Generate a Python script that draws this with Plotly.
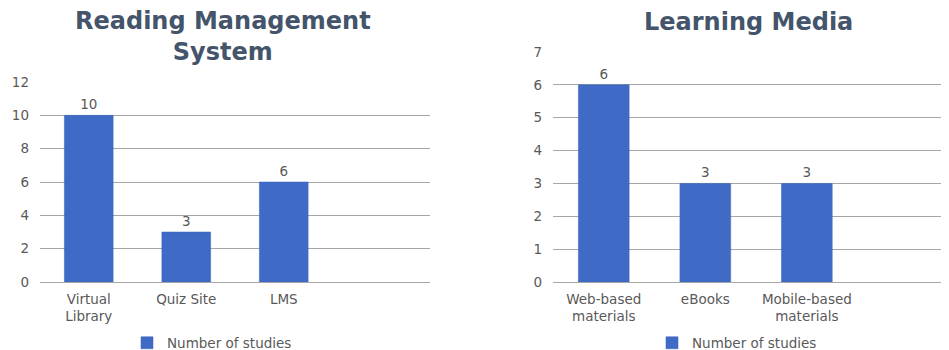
import plotly.graph_objects as go

rms_categories = ["Virtual<br>Library", "Quiz Site", "LMS"]
rms_values = [10, 3, 6]
media_categories = ["Web-based<br>materials", "eBooks", "Mobile-based<br>materials"]
media_values = [6, 3, 3]
series_name = "Number of studies"
rms_title = "Reading Management<br>System"
media_title = "Learning Media"

OFF = 8  # page body margin
W, H = 949 - OFF, 350 - OFF
BAR = "#3f6bc6"
GRID = "#a6a6a6"
TXT = "#595959"
TITLE = "#44546a"
FONT = "DejaVu Sans"
FS = 13.5

def px(x):
    return (x - OFF) / W

def py(y):
    return 1 - (y - OFF) / H

fig = go.Figure()
fig.add_trace(go.Bar(x=rms_categories, y=rms_values, name=series_name,
                     marker=dict(color=BAR, line=dict(color="#3a62b5", width=0.5)),
                     text=rms_values, textposition="outside", cliponaxis=False,
                     textfont=dict(color=TXT, size=FS, family=FONT), showlegend=True,
                     xaxis="x", yaxis="y", legend="legend"))
fig.add_trace(go.Bar(x=media_categories, y=media_values, name=series_name,
                     marker=dict(color=BAR, line=dict(color="#3a62b5", width=0.5)),
                     text=media_values, textposition="outside", cliponaxis=False,
                     textfont=dict(color=TXT, size=FS, family=FONT), showlegend=True,
                     xaxis="x2", yaxis="y2", legend="legend2"))

axis_common = dict(showline=False, ticks="", automargin=False,
                   tickfont=dict(color=TXT, size=FS, family=FONT))
legend_common = dict(xanchor="center", yanchor="middle", orientation="h",
                     font=dict(color=TXT, size=FS, family=FONT),
                     bgcolor="rgba(0,0,0,0)", itemwidth=30)
fig.update_layout(
    width=W, height=H,
    margin=dict(l=0, r=0, t=0, b=0, autoexpand=False),
    plot_bgcolor="white", paper_bgcolor="white",
    bargap=0.5, showlegend=True,
    font=dict(family=FONT, color=TXT, size=FS),
    xaxis=dict(domain=[px(40), px(430)], range=[-0.5, 3.5], type="category",
               anchor="y", showgrid=False, zeroline=False, ticklabelstandoff=7, **axis_common),
    yaxis=dict(domain=[py(282), py(82)], range=[0, 12], dtick=2, anchor="x",
               showgrid=True, gridcolor=GRID, gridwidth=1, zeroline=True,
               zerolinecolor=GRID, zerolinewidth=1, ticklabelstandoff=10, **axis_common),
    xaxis2=dict(domain=[px(553), 1.0], range=[-0.5, 3.4], type="category",
                anchor="y2", showgrid=False, zeroline=False, ticklabelstandoff=7, **axis_common),
    yaxis2=dict(domain=[py(282), py(52)], range=[0, 7], dtick=1, anchor="x2",
                showgrid=True, gridcolor=GRID, gridwidth=1, zeroline=True,
                zerolinecolor=GRID, zerolinewidth=1, ticklabelstandoff=10, **axis_common),
    legend=dict(x=px(212), y=py(343), **legend_common),
    legend2=dict(x=px(737), y=py(343), **legend_common),
    annotations=[
        dict(text="<b>" + rms_title + "</b>", x=px(223), y=py(37), xref="paper", yref="paper",
             xanchor="center", yanchor="middle", showarrow=False,
             font=dict(family=FONT, size=24, color=TITLE)),
        dict(text="<b>" + media_title + "</b>", x=px(748), y=py(22), xref="paper", yref="paper",
             xanchor="center", yanchor="middle", showarrow=False,
             font=dict(family=FONT, size=24, color=TITLE)),
    ],
)

fig.write_html("out.html")
